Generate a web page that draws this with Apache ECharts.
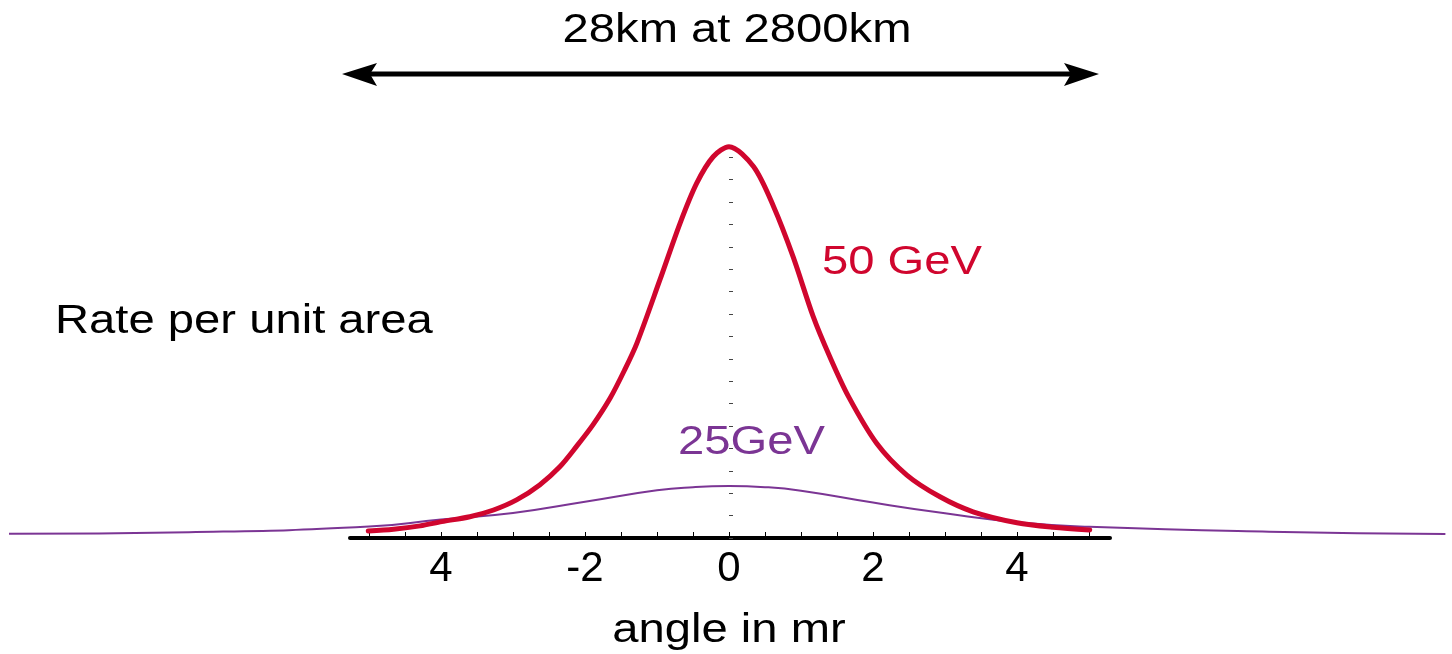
<!DOCTYPE html>
<html>
<head>
<meta charset="utf-8">
<script src="https://cdn.jsdelivr.net/npm/echarts@6/dist/echarts.min.js"></script>
<style>
  html, body { margin: 0; padding: 0; background: #fff; }
  #chart { width: 1452px; height: 654px; }
</style>
</head>
<body>
<div id="chart"></div>
<script>
// angle (mr) / rate pairs
const red50 = [
  [-5.01, 0.31], [-4.66, 0.39], [-4.29, 0.54], [-3.99, 0.73], [-3.60, 0.95],
  [-3.27, 1.25], [-2.95, 1.70], [-2.63, 2.37], [-2.35, 3.18], [-2.12, 4.08],
  [-1.89, 5.05], [-1.65, 6.25], [-1.45, 7.5], [-1.28, 8.69], [-0.96, 11.52], [-0.68, 14.05],
  [-0.45, 15.83], [-0.22, 17.02], [0, 17.47], [0.34, 16.58], [0.62, 14.79],
  [0.89, 12.56], [1.17, 9.88], [1.40, 8.09], [1.66, 6.31], [2.05, 4.23],
  [2.47, 2.81], [2.93, 1.84], [3.39, 1.17], [4.00, 0.68], [4.50, 0.48], [5.01, 0.36]
]
const purple25 = [
  [-10, 0.19], [-7.5, 0.26], [-5, 0.51], [-4, 0.83], [-3, 1.12], [-2, 1.62],
  [-1, 2.13], [-0.5, 2.27], [0, 2.32], [0.5, 2.27], [1, 2.11], [2, 1.58], [3, 1.10], [4, 0.70],
  [5, 0.50], [7.5, 0.28], [9.95, 0.18]
]
const tickValues = [-5, -4.5, -4, -3.5, -3, -2.5, -2, -1.5, -1, -0.5, 0, 0.5, 1, 1.5, 2, 2.5, 3, 3.5, 4, 4.5, 5]
const labelValues = [-4, -2, 0, 2, 4]
const tickLabels = ['4', '-2', '0', '2', '4']

const font = "'Liberation Sans', Arial, sans-serif"
const stretch = 1.18
const chart = echarts.init(document.getElementById('chart'))

function label(text, x, y, color, align) {
  return {
    type: 'text', x: x, y: y, scaleX: stretch,
    style: { text: text, font: '40px ' + font, fill: color, align: align, verticalAlign: 'middle' }
  }
}

chart.setOption({
  animation: false,
  grid: [
    { left: 9, right: 3, bottom: 116, top: 157.2 },
    { left: 350, right: 342, bottom: 116, height: 1 }
  ],
  xAxis: [
    {
      type: 'value', gridIndex: 0, min: -10, max: 10,
      axisLine: { show: false },
      splitLine: { show: false },
      axisTick: { show: true, inside: true, length: 6, customValues: tickValues, lineStyle: { color: '#000', width: 1 } },
      axisLabel: {
        show: true, customValues: labelValues, margin: 10,
        fontFamily: font, fontSize: 42, color: '#000',
        formatter: function (v) { return tickLabels[labelValues.indexOf(v)] }
      }
    },
    {
      type: 'value', gridIndex: 1, min: 0, max: 1,
      axisLine: { show: true, onZero: false, lineStyle: { color: '#000', width: 4, cap: 'round' } },
      axisTick: { show: false },
      axisLabel: { show: false },
      splitLine: { show: false }
    }
  ],
  yAxis: [
    {
      type: 'value', gridIndex: 0, min: 0, max: 17, interval: 1,
      axisLine: { show: true, onZero: true, lineStyle: { color: 'rgba(0,0,0,0)' } },
      axisTick: { show: true, inside: true, length: 4, lineStyle: { color: '#444', width: 1 } },
      axisLabel: { show: false },
      splitLine: { show: false }
    },
    { type: 'value', gridIndex: 1, show: false }
  ],
  series: [
    {
      name: '25GeV', type: 'line', xAxisIndex: 0, yAxisIndex: 0,
      data: purple25, smooth: 0.5, showSymbol: false, clip: false,
      lineStyle: { color: '#7b3594', width: 2 }
    },
    {
      name: '50 GeV', type: 'line', xAxisIndex: 0, yAxisIndex: 0,
      data: red50, smooth: 0.3, showSymbol: false, clip: false,
      lineStyle: { color: '#d0062e', width: 5, cap: 'round' }
    }
  ],
  graphic: [
    // double headed arrow
    { type: 'line', shape: { x1: 360, y1: 74, x2: 1080, y2: 74 }, style: { stroke: '#000', lineWidth: 5 } },
    { type: 'polygon', shape: { points: [[342, 74], [377, 63], [370, 74], [377, 86]] }, style: { fill: '#000' } },
    { type: 'polygon', shape: { points: [[1099, 74], [1064, 63], [1071, 74], [1064, 86]] }, style: { fill: '#000' } },
    label('28km at 2800km', 737, 31, '#000', 'center'),
    label('Rate per unit area', 55, 322, '#000', 'left'),
    label('50 GeV', 822, 263, '#d0062e', 'left'),
    label('25GeV', 678, 443, '#7b3594', 'left'),
    label('angle in mr', 729, 631, '#000', 'center')
  ]
})
</script>
</body>
</html>
